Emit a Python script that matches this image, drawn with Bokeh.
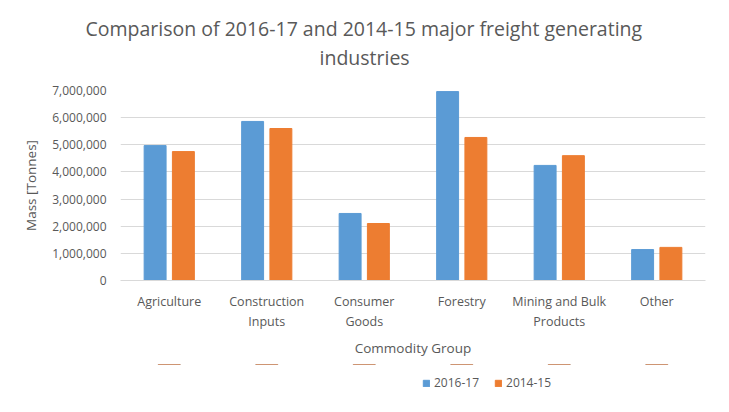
from bokeh.plotting import figure
from bokeh.layouts import column
from bokeh.models import ColumnDataSource, Legend, LegendItem, NumeralTickFormatter, FixedTicker, Title
from bokeh.transform import dodge
from bokeh.embed import file_html
from bokeh.resources import INLINE

categories = ["Agriculture", "Construction\nInputs", "Consumer\nGoods", "Forestry",
              "Mining and Bulk\nProducts", "Other"]
series_2016_17 = [4970000, 5860000, 2470000, 6960000, 4240000, 1140000]
series_2014_15 = [4750000, 5600000, 2100000, 5270000, 4600000, 1220000]
series_names = ["2016-17", "2014-15"]
y_ticks = [0, 1000000, 2000000, 3000000, 4000000, 5000000, 6000000, 7000000]
title_lines = ["Comparison of 2016-17 and 2014-15 major freight generating", "industries"]

FONT = "Open Sans"
TXT = "#595959"
COLORS = ["#5B9BD5", "#ED7D31"]

source = ColumnDataSource(dict(cat=categories, a=series_2016_17, b=series_2014_15))

p = figure(x_range=categories, y_range=(0, 7000000), frame_width=585, frame_height=190,
           output_backend="svg", toolbar_location=None,
           min_border_left=120, min_border_right=8, min_border_top=90, min_border_bottom=84)

p.vbar(x=dodge("cat", -0.145, range=p.x_range), top="a", width=0.225, source=source,
       color=COLORS[0])
p.vbar(x=dodge("cat", 0.145, range=p.x_range), top="b", width=0.225, source=source,
       color=COLORS[1])

p.outline_line_color = None
p.xgrid.grid_line_color = None
p.ygrid.grid_line_color = "#D9D9D9"

p.yaxis.ticker = FixedTicker(ticks=y_ticks)
p.yaxis.formatter = NumeralTickFormatter(format="0,0")
p.yaxis.axis_line_color = None
p.yaxis.major_tick_line_color = None
p.yaxis.minor_tick_line_color = None
p.yaxis.major_tick_out = 0
p.yaxis.minor_tick_out = 0
p.yaxis.major_label_text_font = FONT
p.yaxis.major_label_text_font_size = "12px"
p.yaxis.major_label_text_color = TXT
p.yaxis.major_label_standoff = 14
p.yaxis.axis_label = "Mass [Tonnes]"
p.yaxis.axis_label_text_font = FONT
p.yaxis.axis_label_text_font_size = "13.5px"
p.yaxis.axis_label_text_font_style = "normal"
p.yaxis.axis_label_text_color = TXT
p.yaxis.axis_label_standoff = 9

p.xaxis.axis_line_color = "#D9D9D9"
p.xaxis.major_tick_line_color = None
p.xaxis.minor_tick_line_color = None
p.xaxis.major_label_text_font = FONT
p.xaxis.major_label_text_font_size = "12.5px"
p.xaxis.major_label_text_color = TXT
p.xaxis.major_label_standoff = 6
p.xaxis.axis_label = "Commodity Group"
p.xaxis.axis_label_text_font = FONT
p.xaxis.axis_label_text_font_size = "13.5px"
p.xaxis.axis_label_text_font_style = "normal"
p.xaxis.axis_label_text_color = TXT
p.xaxis.axis_label_standoff = 6

spacer = Title(text=" ", align="left", standoff=17, text_font=FONT, text_font_size="1px")
t2 = Title(text=title_lines[1], align="left", offset=199, standoff=0,
           text_font=FONT, text_font_size="19.5px", text_font_style="normal", text_color=TXT)
t1 = Title(text=title_lines[0], align="left", offset=-35, standoff=0,
           text_font=FONT, text_font_size="19.5px", text_font_style="normal", text_color=TXT)
p.add_layout(spacer, "above")
p.add_layout(t2, "above")
p.add_layout(t1, "above")

# legend strip below the chart (its series renderers lie outside its visible range)
lg = figure(x_range=categories, y_range=(-2, -1), width=713, height=34,
            output_backend="svg", toolbar_location=None,
            x_axis_location=None, y_axis_location=None, min_border=0)
lg.outline_line_color = None
lg.grid.visible = False
l1 = lg.vbar(x="cat", top="a", width=0.225, source=source, color=COLORS[0])
l2 = lg.vbar(x="cat", top="b", width=0.225, source=source, color=COLORS[1])

legend = Legend(items=[LegendItem(label=series_names[0], renderers=[l1]),
                       LegendItem(label=series_names[1], renderers=[l2])],
                orientation="horizontal", location=(302, 7),
                border_line_color=None, background_fill_alpha=0,
                label_text_font=FONT, label_text_font_size="12px", label_text_color=TXT,
                glyph_width=8, glyph_height=8, spacing=15, label_standoff=4,
                margin=0, padding=4)
lg.add_layout(legend, "center")

layout = column(p, lg, spacing=0)

open("out.html", "w").write(file_html(layout, INLINE))
